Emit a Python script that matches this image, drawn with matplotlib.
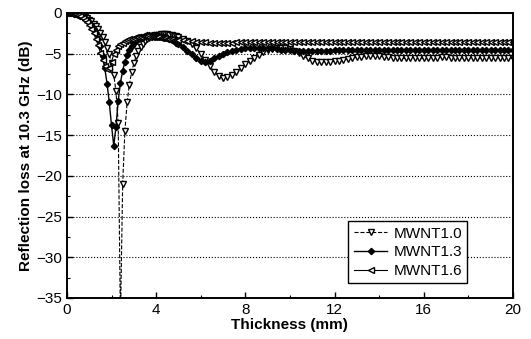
import numpy as np
import matplotlib
matplotlib.use("Agg")
import matplotlib.pyplot as plt
from matplotlib.ticker import MultipleLocator

plt.rcParams['font.family'] = ['Liberation Sans', 'DejaVu Sans']

# thickness grid: fine up to 5 mm, coarser after
t_a = np.round(np.arange(0, 5.01, 0.1), 1)
t_b = np.round(np.arange(5.2, 20.01, 0.2), 1)
thick = np.concatenate([t_a, t_b])

labels = ["MWNT1.0", "MWNT1.3", "MWNT1.6"]

# MWNT1.0 (open down triangles)
rl10_a = [0, -0.01, -0.03, -0.06, -0.1, -0.16, -0.24, -0.34, -0.47, -0.63,
          -0.82, -1.05, -1.32, -1.65, -2.0, -2.45, -2.95, -3.55, -4.25, -5.1,
          -6.2, -7.6, -9.6, -13.5, -38.0, -21.0, -14.5, -11.0, -8.8, -7.3,
          -6.2, -5.35, -4.7, -4.2, -3.8, -3.5, -3.25, -3.05, -2.9, -2.8,
          -2.72, -2.68, -2.65, -2.63, -2.63, -2.65, -2.68, -2.72, -2.78, -2.85,
          -2.95]
rl10_b = [-3.15, -3.45, -3.85, -4.35, -5.0, -5.75, -6.5, -7.2, -7.75, -8.0,
          -7.9, -7.6, -7.2, -6.75, -6.3, -5.9, -5.5, -5.15, -4.85, -4.6,
          -4.45, -4.35, -4.3, -4.35, -4.45, -4.65, -4.95, -5.3, -5.6, -5.85,
          -6.0, -6.05, -6.05, -6.0, -5.95, -5.85, -5.75, -5.65, -5.55, -5.45,
          -5.38, -5.32, -5.3, -5.3, -5.32, -5.36, -5.42, -5.48, -5.53, -5.57,
          -5.6, -5.6, -5.6, -5.58, -5.56, -5.53, -5.5, -5.48, -5.47, -5.47,
          -5.48, -5.5, -5.52, -5.54, -5.55, -5.56, -5.56, -5.55, -5.54, -5.53,
          -5.52, -5.52, -5.53, -5.54, -5.55]

# MWNT1.3 (filled diamonds)
rl13_a = [0, -0.02, -0.04, -0.08, -0.14, -0.22, -0.33, -0.47, -0.65, -0.88,
          -1.15, -1.5, -1.95, -2.5, -3.2, -4.1, -5.3, -6.8, -8.7, -11.0,
          -13.8, -16.3, -14.0, -10.8, -8.6, -7.1, -6.0, -5.2, -4.6, -4.1,
          -3.75, -3.45, -3.2, -3.0, -2.9, -2.8, -2.75, -2.7, -2.7, -2.7,
          -2.75, -2.8, -2.85, -2.9, -3.0, -3.1, -3.2, -3.35, -3.5, -3.65,
          -3.8]
rl13_b = [-4.2, -4.65, -5.1, -5.5, -5.85, -6.0, -5.9, -5.6, -5.3, -5.05,
          -4.85, -4.7, -4.55, -4.45, -4.35, -4.3, -4.25, -4.25, -4.25, -4.3,
          -4.35, -4.4, -4.5, -4.55, -4.6, -4.65, -4.7, -4.7, -4.7, -4.7,
          -4.68, -4.66, -4.64, -4.62, -4.6, -4.58, -4.56, -4.55, -4.54, -4.54,
          -4.54, -4.55, -4.56, -4.57, -4.58, -4.58, -4.58, -4.57, -4.56, -4.55,
          -4.55, -4.55, -4.55, -4.56, -4.56, -4.56, -4.56, -4.55, -4.55, -4.55,
          -4.55, -4.55, -4.55, -4.56, -4.56, -4.56, -4.56, -4.55, -4.55, -4.55,
          -4.55, -4.55, -4.55, -4.55, -4.55]

# MWNT1.6 (open left triangles)
rl16_a = [0, -0.02, -0.05, -0.1, -0.18, -0.28, -0.42, -0.6, -0.85, -1.15,
          -1.5, -1.95, -2.5, -3.2, -4.0, -4.9, -5.8, -6.5, -6.9, -6.8,
          -6.0, -5.1, -4.5, -4.1, -3.85, -3.65, -3.5, -3.35, -3.25, -3.15,
          -3.05, -3.0, -2.95, -2.9, -2.88, -2.88, -2.88, -2.9, -2.92, -2.95,
          -2.98, -3.02, -3.06, -3.1, -3.14, -3.18, -3.21, -3.24, -3.27, -3.3,
          -3.32]
rl16_b = [-3.35, -3.42, -3.48, -3.54, -3.58, -3.62, -3.64, -3.66, -3.66, -3.66,
          -3.65, -3.64, -3.63, -3.62, -3.62, -3.62, -3.62, -3.62, -3.63, -3.63,
          -3.63, -3.63, -3.62, -3.62, -3.62, -3.61, -3.61, -3.61, -3.61, -3.62,
          -3.62, -3.62, -3.62, -3.62, -3.61, -3.61, -3.61, -3.61, -3.61, -3.61,
          -3.61, -3.61, -3.62, -3.62, -3.62, -3.62, -3.61, -3.61, -3.61, -3.61,
          -3.61, -3.61, -3.61, -3.61, -3.61, -3.61, -3.61, -3.61, -3.61, -3.61,
          -3.61, -3.61, -3.61, -3.61, -3.61, -3.61, -3.61, -3.61, -3.61, -3.61,
          -3.61, -3.61, -3.61, -3.61, -3.61]

rl10 = np.array(rl10_a + rl10_b)
rl13 = np.array(rl13_a + rl13_b)
rl16 = np.array(rl16_a + rl16_b)

fig = plt.figure(figsize=(5.31, 3.39), dpi=100)
ax = fig.add_axes([0.126, 0.121, 0.840, 0.841])

ax.plot(thick, rl10, color='black', lw=0.8, ls='--', marker='v', ms=3.8,
        mfc='white', mec='black', mew=1.0, label=labels[0])
ax.plot(thick, rl13, color='black', lw=1.0, ls='-', marker='D', ms=3.2,
        mfc='black', mec='black', label=labels[1])
ax.plot(thick, rl16, color='black', lw=0.8, ls='-', marker='<', ms=3.8,
        mfc='white', mec='black', mew=1.0, label=labels[2])

ax.set_xlim(0, 20)
ax.set_ylim(-35, 0)
ax.xaxis.set_major_locator(MultipleLocator(4))
ax.xaxis.set_minor_locator(MultipleLocator(2))
ax.yaxis.set_major_locator(MultipleLocator(5))
ax.yaxis.set_minor_locator(MultipleLocator(2.5))
ax.tick_params(which='both', direction='in', labelsize=11)
ax.tick_params(which='major', length=4, width=1)
ax.tick_params(which='minor', length=2.5, width=0.8)
ax.yaxis.grid(True, which='major', ls=':', color='black', lw=0.8)
for s in ax.spines.values():
    s.set_linewidth(1.4)

ax.set_xlabel("Thickness (mm)", fontsize=11, fontweight='bold', labelpad=1)
ax.set_ylabel("Reflection loss at 10.3 GHz (dB)", fontsize=11, fontweight='bold', labelpad=2)

leg = ax.legend(loc='lower right', bbox_to_anchor=(0.915, 0.025), fontsize=11,
                frameon=True, fancybox=False, edgecolor='black', framealpha=1,
                handlelength=2.2, handletextpad=0.4, borderpad=0.35, labelspacing=0.3)
leg.get_frame().set_linewidth(1.0)

fig.savefig("out.png", dpi=100)
